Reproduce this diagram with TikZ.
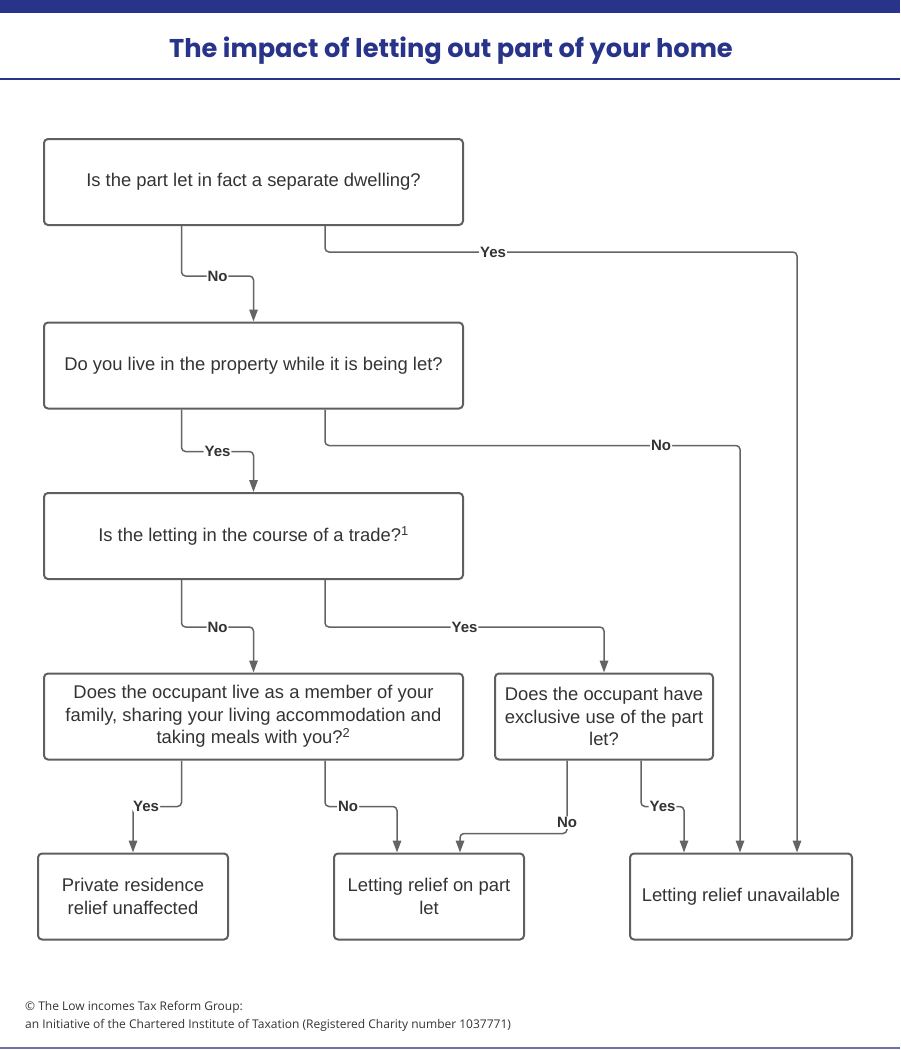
\documentclass[tikz,border=0pt]{standalone}
\usepackage{fontspec}
\setmainfont{Liberation Sans}
\newfontfamily\titlefont{Poppins}
\newfontfamily\footfont{Open Sans}
\usetikzlibrary{arrows.meta,calc}
\definecolor{navy}{RGB}{40,52,138}
\definecolor{navylight}{RGB}{110,112,170}
\definecolor{linegrey}{RGB}{100,100,100}
\definecolor{boxgrey}{RGB}{95,95,95}
\definecolor{txtgrey}{RGB}{51,51,51}
\begin{document}
\begin{tikzpicture}[x=1pt,y=-1pt,
  qbox/.style={draw=boxgrey, line width=2pt, rounded corners=4pt, align=center,
    text=txtgrey, inner sep=0pt, font=\fontsize{18.4}{22.5}\selectfont},
  conn/.style={draw=linegrey, line width=1.5pt, rounded corners=4pt,
    -{Triangle[length=12pt,width=8.5pt]}},
  lbl/.style={fill=white, inner sep=1pt, text=txtgrey,
    font=\fontsize{15}{16}\selectfont\bfseries}]
\useasboundingbox (0,0) rectangle (900,1050);
% header
\fill[navy] (0,0) rectangle (900,13);
\node[text=navy, font=\titlefont\fontsize{25.7}{29}\selectfont\bfseries] (title) at (451,50.5) {The impact of letting out part of your home};
\draw[navy, line width=2pt] (0,79) -- (900,79);
% boxes
\node[qbox, minimum width=419pt, minimum height=86pt] (b1) at (253.5,182) {Is the part let in fact a separate dwelling?};
\node[qbox, minimum width=419pt, minimum height=86pt] (b2) at (253.5,365.5) {Do you live in the property while it is being let?};
\node[qbox, minimum width=419pt, minimum height=86pt] (b3) at (253.5,536) {Is the letting in the course of a trade?\textsuperscript{1}};
\node[qbox, minimum width=419pt, minimum height=86pt] (b4) at (253.5,716.5) {Does the occupant live as a member of your\\family, sharing your living accommodation and\\taking meals with you?\textsuperscript{2}};
\node[qbox, minimum width=218pt, minimum height=86pt] (b5) at (604,716.5) {Does the occupant have\\exclusive use of the part\\let?};
\node[qbox, minimum width=190pt, minimum height=86pt] (b6) at (133,896.5) {Private residence\\relief unaffected};
\node[qbox, minimum width=190pt, minimum height=86pt] (b7) at (429,896.5) {Letting relief on part\\let};
\node[qbox, minimum width=222pt, minimum height=86pt] (b8) at (741,896.5) {Letting relief unavailable};
% connectors
\draw[conn] ([xshift=-72pt]b1.south) -- ++(0,50) -| node[lbl,pos=0.25]{No} (b2.north);
\draw[conn] ([xshift=71.5pt]b1.south) -- ++(0,26) -| node[lbl,pos=0.178]{Yes} ([xshift=56pt]b8.north);
\draw[conn] ([xshift=-72pt]b2.south) -- ++(0,42) -| node[lbl,pos=0.25]{Yes} (b3.north);
\draw[conn] ([xshift=71.5pt]b2.south) -- ++(0,36) -| node[lbl,pos=0.405]{No} ([xshift=-1pt]b8.north);
\draw[conn] ([xshift=-72pt]b3.south) -- ++(0,47) -| node[lbl,pos=0.25]{No} (b4.north);
\draw[conn] ([xshift=71.5pt]b3.south) -- ++(0,47) -| node[lbl,pos=0.25]{Yes} (b5.north);
\draw[conn] ([xshift=-72pt]b4.south) -- ++(0,46) -| node[lbl,pos=0.365]{Yes} (b6.north);
\draw[conn] ([xshift=71.5pt]b4.south) -- ++(0,46) -| node[lbl,pos=0.16]{No} ([xshift=-32pt]b7.north);
\draw[conn] ([xshift=-37pt]b5.south) -- node[lbl,pos=0.85]{No} ++(0,73) -| ([xshift=31pt]b7.north);
\draw[conn] ([xshift=37pt]b5.south) -- ++(0,46) -| node[lbl,pos=0.25]{Yes} ([xshift=-57pt]b8.north);
% footer
\node[anchor=base west, inner sep=0pt, text=txtgrey, font=\footfont\fontsize{12}{14}\selectfont] (f1) at (25,1010) {© The Low incomes Tax Reform Group:};
\node[anchor=base west, inner sep=0pt, text=txtgrey, font=\footfont\fontsize{12}{14}\selectfont] (f2) at (25,1028) {an Initiative of the Chartered Institute of Taxation (Registered Charity number 1037771)};
\draw[navylight, line width=2.5pt] (0,1048) -- (900,1048);
\end{tikzpicture}
\end{document}
